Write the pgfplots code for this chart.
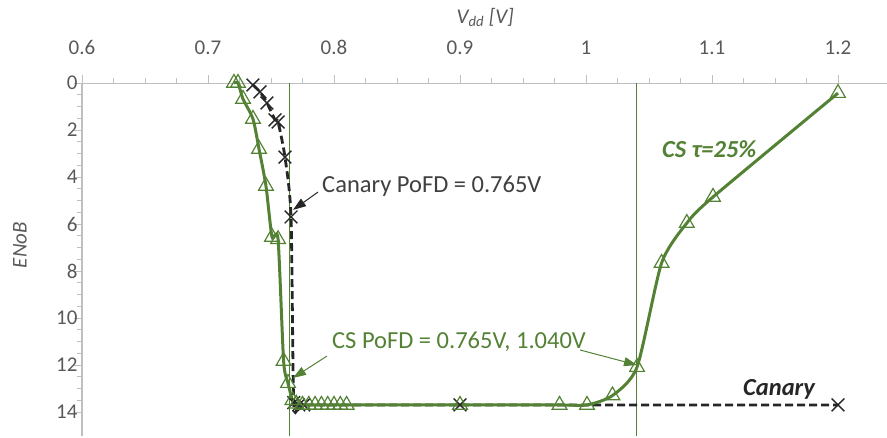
\documentclass[border=0pt]{standalone}
\usepackage{pgfplots}
\pgfplotsset{compat=1.18}
\usepackage{fontspec}
\setmainfont{Carlito}
\usetikzlibrary{arrows.meta}
\definecolor{csg}{HTML}{548235}
\definecolor{cana}{HTML}{262626}
\definecolor{cantext}{HTML}{404040}
\definecolor{tickg}{HTML}{595959}
\definecolor{axg}{HTML}{BFBFBF}
\begin{document}
\begin{tikzpicture}[x=1pt,y=1pt]
\path[use as bounding box] (0,0) rectangle (887,437);
\begin{axis}[
  at={(82pt,1.5pt)}, anchor=south west,
  scale only axis, width=806.4pt, height=352.5pt,
  xmin=0.6, xmax=1.24, ymin=0, ymax=15, y dir=reverse,
  axis x line=top, axis y line=left,
  axis line style={draw=axg, line width=1pt, -},
  xtick={0.6,0.7,0.8,0.9,1,1.1,1.2},
  minor x tick num=3,
  ytick={0,2,4,6,8,10,12,14},
  minor y tick num=3,
  tick style={draw=axg, line width=0.8pt},
  major tick length=8pt, minor tick length=5pt,
  tick align=outside,
  ticklabel style={font=\fontsize{21}{25}\selectfont, text=tickg},
  xticklabel style={yshift=17pt},
  yticklabel style={xshift=7pt},
  /pgf/number format/assume math mode=true,
  clip=false,
]
% vertical PoFD lines
\addplot[csg, line width=0.9pt] coordinates {(0.765,0) (0.765,15)};
\addplot[csg, line width=0.9pt] coordinates {(1.04,0) (1.04,15)};
% Canary
\addplot[cana, line width=2.8pt, dash pattern=on 8pt off 4pt, smooth, tension=0.4,
  mark=x, mark size=9pt, mark options={solid, line width=1.4pt}] coordinates {
  (0.7357,0.085) (0.7413,0.38) (0.7468,0.85) (0.7532,1.57) (0.7556,1.66)
  (0.7611,3.15) (0.7659,5.7) (0.768,13.6) (0.772,13.7) (0.776,13.7)
  (0.9,13.7) (1.2,13.7)};
% CS tau=25%
\addplot[csg, line width=3pt, smooth, tension=0.4,
  mark=triangle, mark size=8.5pt, mark options={solid, line width=1.2pt, fill=none}] coordinates {
  (0.7206,0) (0.7238,0) (0.7278,0.68) (0.7357,1.53) (0.7405,2.81)
  (0.746,4.38) (0.7508,6.55) (0.7556,6.65) (0.760,11.83) (0.7635,12.77)
  (0.767,13.5) (0.770,13.65) (0.775,13.7) (0.780,13.7) (0.785,13.7)
  (0.790,13.7) (0.795,13.7) (0.800,13.7) (0.805,13.7) (0.810,13.7)
  (0.9,13.7) (0.979,13.7) (1.0008,13.7) (1.021,13.3) (1.0405,12.09)
  (1.060,7.66) (1.080,5.96) (1.1008,4.85) (1.2,0.43)};
% labels
\node[font=\fontsize{21}{25}\selectfont\itshape, text=tickg] at (axis cs:0.92,-2.77) {V\textsubscript{dd} [V]};
\node[font=\fontsize{21}{25}\selectfont\itshape, text=tickg, rotate=90] at (axis cs:0.5508,6.9) {ENoB};
% annotations
\node[anchor=base west, inner sep=0pt, font=\fontsize{24.5}{29}\selectfont, text=cantext] at (axis cs:0.7905,4.68) {Canary PoFD = 0.765V};
\draw[cana, line width=1pt, -{Triangle[length=13pt,width=9pt]}] (axis cs:0.7873,4.64) -- (axis cs:0.7675,5.4);
\node[anchor=base west, inner sep=0pt, font=\fontsize{24.5}{29}\selectfont, text=csg] at (axis cs:0.7984,11.28) {CS PoFD = 0.765V, 1.040V};
\draw[csg, line width=1pt, -{Triangle[length=13pt,width=9pt]}] (axis cs:0.7944,11.62) -- (axis cs:0.7675,12.55);
\draw[csg, line width=1pt, -{Triangle[length=13pt,width=9pt]}] (axis cs:0.9952,11.36) -- (axis cs:1.0405,12.0);
\node[anchor=base west, inner sep=0pt, font=\fontsize{24.5}{29}\selectfont\bfseries\itshape, text=csg] at (axis cs:1.0603,3.15) {CS τ=25\%};
\node[anchor=base west, inner sep=0pt, font=\fontsize{24.5}{29}\selectfont\bfseries\itshape, text=cana] at (axis cs:1.1246,13.28) {Canary};
\end{axis}
\end{tikzpicture}
\end{document}
